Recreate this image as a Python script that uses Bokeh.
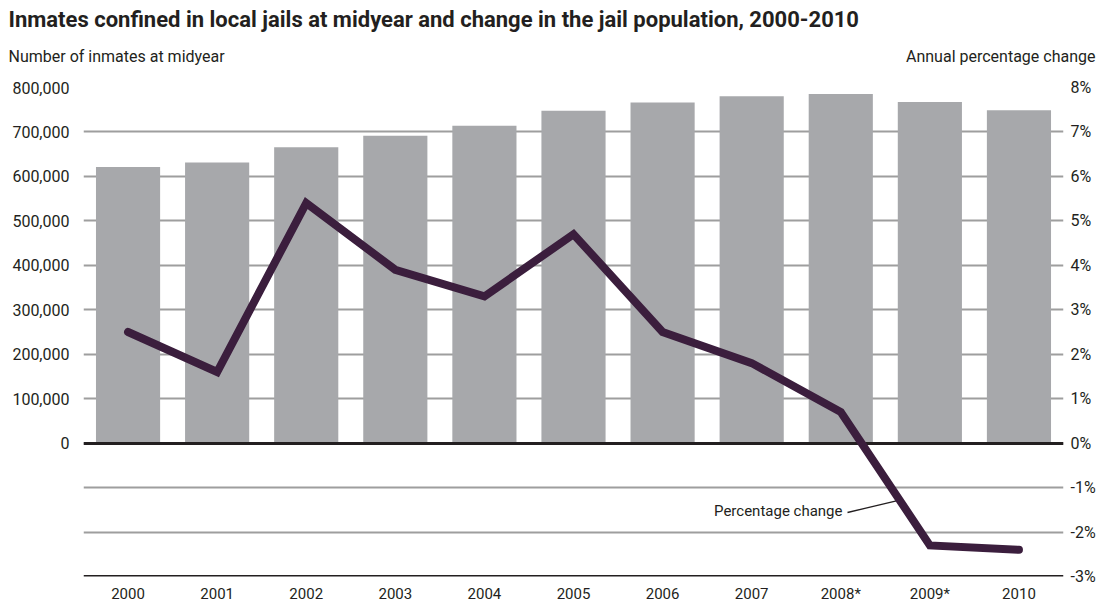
from bokeh.plotting import figure
from bokeh.models import (FactorRange, Range1d, LinearAxis, FixedTicker,
                          NumeralTickFormatter, PrintfTickFormatter, Label)
from bokeh.core.properties import value
from bokeh.embed import file_html
from bokeh.resources import INLINE

# Jail population at midyear and annual percentage change, 2000-2010
years = ["2000", "2001", "2002", "2003", "2004", "2005",
         "2006", "2007", "2008*", "2009*", "2010"]
inmates = [621149, 631240, 665475, 691301, 713990, 747529,
           766010, 780174, 785533, 767434, 748728]
pct_change = [2.5, 1.6, 5.4, 3.9, 3.3, 4.7, 2.5, 1.8, 0.7, -2.3, -2.4]

count_ticks = [0, 100000, 200000, 300000, 400000, 500000, 600000, 700000, 800000]
pct_ticks = [-3, -2, -1, 0, 1, 2, 3, 4, 5, 6, 7, 8]

title_text = "Inmates confined in local jails at midyear and change in the jail population, 2000-2010"
left_label = "Number of inmates at midyear"
right_label = "Annual percentage change"
series_label = "Percentage change"

FONT = "Roboto"
TEXT = "#231F20"
BAR = "#A7A8AB"
GRID = "#9E9E9E"
LINE = "#3B1E3D"

W = 1103
HEAD = 70                      # header strip with the title and axis captions
MAIN_H = 606 - HEAD
BL, BR, BT, BB = 83, 40, 17, 30  # borders around the plotting frame

# ---- header strip: y measured downward in pixels ----
head = figure(width=W, height=HEAD, output_backend="svg", toolbar_location=None,
              x_range=Range1d(0, W), y_range=Range1d(HEAD, 0),
              x_axis_location=None, y_axis_location=None, min_border=0)
head.outline_line_color = None
head.grid.grid_line_color = None
head.text(x=[8], y=[19], text=[title_text], text_font=value(FONT),
          text_font_style="bold", text_font_size="22px", text_color=TEXT,
          text_align="left", text_baseline="middle")
head.text(x=[8], y=[56], text=[left_label], text_font=value(FONT),
          text_font_size="16px", text_color=TEXT,
          text_align="left", text_baseline="middle")
head.text(x=[1095], y=[56], text=[right_label], text_font=value(FONT),
          text_font_size="16px", text_color=TEXT,
          text_align="right", text_baseline="middle")

# ---- main chart ----
p = figure(width=W, height=MAIN_H, output_backend="svg", toolbar_location=None,
           x_range=FactorRange(*years), y_range=Range1d(-3, 8),
           y_axis_location=None,
           min_border_left=BL, min_border_right=BR,
           min_border_top=BT, min_border_bottom=BB)
p.outline_line_color = None

# the count scale shares the frame with the percent scale (100,000 <-> 1%)
p.extra_y_ranges = {"count": Range1d(-300000, 800000)}

frame_w = W - BL - BR
frame_h = MAIN_H - BT - BB


def fx(px):
    return (px - BL) / frame_w * len(years)


def fy(py):
    # py given in page pixels
    return 8 - (py - HEAD - BT) / frame_h * 11


# grid
p.xgrid.grid_line_color = None
p.ygrid.ticker = FixedTicker(ticks=pct_ticks)
p.ygrid.grid_line_color = GRID
p.ygrid.grid_line_width = 2

# bars (count scale)
p.vbar(x=years, top=inmates, bottom=0, width=0.72, color=BAR,
       line_color=None, y_range_name="count")

# baseline at zero and bottom rule at -3%
p.hspan(y=[0, -3], line_color=TEXT, line_width=3)

# leader for the series label, ending under the line between 2008* and 2009*
t = 0.66
lead_x1 = 8.5 + t
lead_y1 = pct_change[8] + t * (pct_change[9] - pct_change[8])
p.segment(x0=[fx(847)], y0=[fy(512)], x1=[lead_x1], y1=[lead_y1],
          line_color=TEXT, line_width=1.3)

# percentage change line
p.line(x=years, y=pct_change, line_color=LINE, line_width=8,
       line_cap="round", line_join="miter")

# axes
left = LinearAxis(y_range_name="count", ticker=FixedTicker(ticks=count_ticks),
                  formatter=NumeralTickFormatter(format="0,0"))
right = LinearAxis(ticker=FixedTicker(ticks=pct_ticks),
                   formatter=PrintfTickFormatter(format="%d%%"))
p.add_layout(left, "left")
p.add_layout(right, "right")

for ax, standoff, size in ((p.xaxis[0], 8, "15px"), (left, 14, "16px"),
                           (right, 7, "16px")):
    ax.axis_line_color = None
    ax.major_tick_line_color = None
    ax.minor_tick_line_color = None
    ax.major_tick_out = 0
    ax.major_tick_in = 0
    ax.minor_tick_out = 0
    ax.minor_tick_in = 0
    ax.major_label_standoff = standoff
    ax.major_label_text_font = FONT
    ax.major_label_text_font_size = size
    ax.major_label_text_color = TEXT

p.add_layout(Label(x=fx(842), y=fy(510), text=series_label,
                   text_font=FONT, text_font_size="15px", text_color=TEXT,
                   text_align="right", text_baseline="middle"))

# two independent roots, stacked one above the other
open("out.html", "w").write(file_html([head, p], INLINE))
